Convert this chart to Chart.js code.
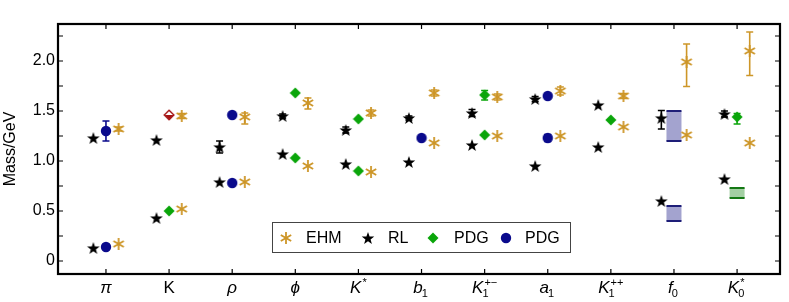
<!DOCTYPE html>
<html>
<head>
<meta charset="utf-8">
<script src="https://cdn.jsdelivr.net/npm/chart.js@4.4.1/dist/chart.umd.min.js"></script>
<style>
  html, body { margin: 0; padding: 0; background: #fff; }
  #wrap { width: 789px; height: 302px; }
</style>
</head>
<body>
<div id="wrap"><canvas id="massChart"></canvas></div>
<script>
// mesons along the bottom: base symbol, subscript, superscript
const categories = ['π', 'K', 'ρ', 'ϕ', 'K', 'b', 'K', 'a', 'K', 'f', 'K'];
const catSub = ['', '', '', '', '', '1', '1', '1', '1', '0', '0'];
const catSup = ['', '', '', '', '*', '', '+−', '', '++', '', '*'];
const uprightIdx = [1];
const yTicks = [0, 0.25, 0.5, 0.75, 1, 1.25, 1.5, 1.75, 2, 2.25];

// EHM (gold), ground and excited state
const ehmLower = [0.17, 0.52, 0.79, 0.95, 0.89, 1.18, 1.25, 1.25, 1.34, 1.26, 1.18];
const ehmUpper = [1.32, 1.45, 1.44, 1.58, 1.48, 1.68, 1.64, 1.70, 1.65, 1.99, 2.10];
const ehmUpperErrMinus = [0.02, 0.025, 0.07, 0.06, 0.03, 0.03, 0.03, 0.04, 0.025, 0.245, 0.245];
const ehmUpperErrPlus = [0.02, 0.025, 0.04, 0.05, 0.03, 0.03, 0.03, 0.04, 0.025, 0.18, 0.19];

// RL (black stars)
const rlLower = [0.13, 0.43, 0.79, 1.07, 0.97, 0.99, 1.16, 0.95, 1.14, 0.60, 0.82];
const rlUpper = [1.23, 1.21, 1.14, 1.45, 1.31, 1.43, 1.48, 1.62, 1.56, 1.43, 1.47];
const rlUpperErrMinus = [0, 0, 0.06, 0.02, 0.03, 0.02, 0.035, 0.025, 0, 0.11, 0.03];
const rlUpperErrPlus = [0, 0, 0.06, 0.02, 0.03, 0.02, 0.035, 0.025, 0, 0.075, 0.03];

// PDG green diamonds
const pdgGreenLower = [null, 0.50, null, 1.03, 0.90, null, 1.26, null, null, null, null];
const pdgGreenUpper = [null, null, null, 1.68, 1.42, null, 1.66, null, 1.41, null, 1.44];
const pdgGreenErrMinus = [0, 0, 0, 0, 0, 0, 0.05, 0, 0, 0, 0.07];
const pdgGreenErrPlus = [0, 0, 0, 0, 0, 0, 0.045, 0, 0, 0, 0.035];

// PDG blue circles
const pdgBlueLower = [0.14, null, 0.78, null, null, 1.23, null, 1.23, null, null, null];
const pdgBlueUpper = [1.30, null, 1.46, null, null, null, null, 1.65, null, null, null];
const pdgBlueLowerErr = [0, 0, 0, 0, 0, 0, 0, 0.035, 0, 0, 0];
const pdgBlueUpperErr = [0.10, 0, 0, 0, 0, 0, 0, 0, 0, 0, 0];

// K excited (open red diamond)
const kExcited = [null, 1.46, null, null, null, null, null, null, null, null, null];

// PDG ranges drawn as bands: [category, low, high]
const blueBands = [[9, 0.40, 0.55], [9, 1.20, 1.50]];
const greenBands = [[10, 0.63, 0.73]];

const GOLD = 'rgb(205,150,40)';
const NAVY = 'rgb(10,10,140)';
const GREEN = 'rgb(10,165,10)';
const SHIFT = 0.2;
const FONT = '"Liberation Sans", Arial, sans-serif';

function marker(size, draw) {
  const c = document.createElement('canvas');
  c.width = size; c.height = size;
  draw(c.getContext('2d'), size / 2);
  return c;
}

const starImg = marker(14, (g, h) => {
  g.fillStyle = '#000';
  g.beginPath();
  for (let k = 0; k < 10; k++) {
    const r = k % 2 ? 2.7 : 6.6;
    const a = -Math.PI / 2 + k * Math.PI / 5;
    g.lineTo(h + r * Math.cos(a), h + 0.6 + r * Math.sin(a));
  }
  g.closePath();
  g.fill();
});

const asteriskImg = marker(14, (g, h) => {
  g.strokeStyle = GOLD;
  g.lineWidth = 1.8;
  [90, 30, 150].forEach(d => {
    const a = d * Math.PI / 180;
    g.beginPath();
    g.moveTo(h - 6 * Math.cos(a), h - 6 * Math.sin(a));
    g.lineTo(h + 6 * Math.cos(a), h + 6 * Math.sin(a));
    g.stroke();
  });
});

const diamondImg = marker(12, (g, h) => {
  g.fillStyle = GREEN;
  g.beginPath();
  g.moveTo(h, 0.5); g.lineTo(11.5, h); g.lineTo(h, 11.5); g.lineTo(0.5, h);
  g.closePath();
  g.fill();
});

const circleImg = marker(12, (g, h) => {
  g.fillStyle = NAVY;
  g.beginPath();
  g.arc(h, h, 5.2, 0, Math.PI * 2);
  g.fill();
});

const redDiamondImg = marker(12, (g, h) => {
  const red = 'rgb(165,20,20)';
  g.fillStyle = red;
  g.beginPath();
  g.moveTo(1.5, h); g.lineTo(10.5, h); g.lineTo(h, 10.5);
  g.closePath();
  g.fill();
  g.strokeStyle = red;
  g.lineWidth = 1.4;
  g.beginPath();
  g.moveTo(h, 1.2); g.lineTo(10.8, h); g.lineTo(h, 10.8); g.lineTo(1.2, h);
  g.closePath();
  g.stroke();
});

function pts(values, shift) {
  const out = [];
  values.forEach((v, i) => { if (v !== null) out.push({ x: i + shift, y: v }); });
  return out;
}

// error bars: [x shift, centers, minus, plus, colour]
const errorSets = [
  [SHIFT, ehmUpper, ehmUpperErrMinus, ehmUpperErrPlus, GOLD],
  [-SHIFT, rlUpper, rlUpperErrMinus, rlUpperErrPlus, '#000'],
  [0, pdgGreenUpper, pdgGreenErrMinus, pdgGreenErrPlus, GREEN],
  [0, pdgBlueLower, pdgBlueLowerErr, pdgBlueLowerErr, NAVY],
  [0, pdgBlueUpper, pdgBlueUpperErr, pdgBlueUpperErr, NAVY]
];

const legendItems = [
  { img: asteriskImg, text: 'EHM', mx: 286, tx: 306 },
  { img: starImg, text: 'RL', mx: 368, tx: 388 },
  { img: diamondImg, text: 'PDG', mx: 433, tx: 454 },
  { img: circleImg, text: 'PDG', mx: 506, tx: 525 }
];

const extras = {
  id: 'extras',
  beforeDatasetsDraw(chart) {
    const { ctx, scales: { x, y } } = chart;
    ctx.save();
    // bands
    const band = (b, fill, edge) => {
      const cx = x.getPixelForValue(b[0]);
      const y1 = y.getPixelForValue(b[2]), y0 = y.getPixelForValue(b[1]);
      ctx.fillStyle = fill;
      ctx.fillRect(cx - 7.5, y1, 15, y0 - y1);
      ctx.strokeStyle = edge;
      ctx.lineWidth = 2;
      ctx.beginPath();
      ctx.moveTo(cx - 7.5, y1); ctx.lineTo(cx + 7.5, y1);
      ctx.moveTo(cx - 7.5, y0); ctx.lineTo(cx + 7.5, y0);
      ctx.stroke();
    };
    blueBands.forEach(b => band(b, 'rgba(140,140,195,0.8)', 'rgb(30,30,120)'));
    greenBands.forEach(b => band(b, 'rgba(140,195,140,0.8)', 'rgb(20,120,20)'));
    // error bars
    errorSets.forEach(([shift, vals, minus, plus, col]) => {
      vals.forEach((v, i) => {
        if (v === null || (!minus[i] && !plus[i])) return;
        const cx = x.getPixelForValue(i + shift);
        const yt = y.getPixelForValue(v + plus[i]);
        const yb = y.getPixelForValue(v - minus[i]);
        ctx.strokeStyle = col;
        ctx.lineWidth = 1.6;
        ctx.beginPath();
        ctx.moveTo(cx, yt); ctx.lineTo(cx, yb);
        ctx.moveTo(cx - 3.5, yt); ctx.lineTo(cx + 3.5, yt);
        ctx.moveTo(cx - 3.5, yb); ctx.lineTo(cx + 3.5, yb);
        ctx.stroke();
      });
    });
    ctx.restore();
  },
  afterDraw(chart) {
    const { ctx, chartArea: a, scales: { x, y } } = chart;
    ctx.save();
    ctx.strokeStyle = '#000';
    ctx.lineWidth = 1.2;
    ctx.beginPath();
    yTicks.forEach(v => {
      const py = y.getPixelForValue(v);
      ctx.moveTo(a.left, py); ctx.lineTo(a.left + 5, py);
      ctx.moveTo(a.right, py); ctx.lineTo(a.right - 5, py);
    });
    categories.forEach((c, i) => {
      const px = x.getPixelForValue(i);
      ctx.moveTo(px, a.bottom); ctx.lineTo(px, a.bottom - 5);
      ctx.moveTo(px, a.top); ctx.lineTo(px, a.top + 5);
    });
    ctx.stroke();
    ctx.lineWidth = 2.2;
    ctx.strokeRect(a.left, a.top, a.right - a.left, a.bottom - a.top);

    // category labels with sub/superscripts
    ctx.fillStyle = '#000';
    ctx.textBaseline = 'alphabetic';
    categories.forEach((c, i) => {
      const style = uprightIdx.includes(i) ? '' : 'italic ';
      ctx.font = style + '17px ' + FONT;
      const wBase = ctx.measureText(c).width;
      ctx.font = '11px ' + FONT;
      const wSub = catSub[i] ? ctx.measureText(catSub[i]).width : 0;
      const wSup = catSup[i] ? ctx.measureText(catSup[i]).width : 0;
      const total = wBase + Math.max(wSub, wSup) + (wSub || wSup ? 1 : 0);
      const x0 = x.getPixelForValue(i) - total / 2;
      const base = 293;
      ctx.font = style + '17px ' + FONT;
      ctx.textAlign = 'left';
      ctx.fillText(c, x0, base);
      ctx.font = '11px ' + FONT;
      if (catSub[i]) ctx.fillText(catSub[i], x0 + wBase + (i === 4 ? 0 : -1), base + 4);
      if (catSup[i]) ctx.fillText(catSup[i], x0 + wBase + 1, base - 7);
    });

    // legend box
    ctx.fillStyle = '#fff';
    ctx.fillRect(272, 222, 299, 31);
    ctx.strokeStyle = '#444';
    ctx.lineWidth = 1;
    ctx.strokeRect(272.5, 222.5, 298, 30);
    ctx.fillStyle = '#000';
    ctx.font = '16px ' + FONT;
    ctx.textBaseline = 'middle';
    legendItems.forEach(it => {
      ctx.drawImage(it.img, it.mx - it.img.width / 2, 238 - it.img.height / 2);
      ctx.fillText(it.text, it.tx, 238.5);
    });
    ctx.restore();
  }
};

Chart.defaults.font.family = FONT;
Chart.defaults.color = '#000';

new Chart(document.getElementById('massChart'), {
  type: 'scatter',
  data: {
    datasets: [
      { label: 'EHM', data: pts(ehmLower, SHIFT).concat(pts(ehmUpper, SHIFT)), pointStyle: asteriskImg },
      { label: 'RL', data: pts(rlLower, -SHIFT).concat(pts(rlUpper, -SHIFT)), pointStyle: starImg },
      { label: 'PDG', data: pts(pdgGreenLower, 0).concat(pts(pdgGreenUpper, 0)), pointStyle: diamondImg },
      { label: 'PDG', data: pts(pdgBlueLower, 0).concat(pts(pdgBlueUpper, 0)), pointStyle: circleImg },
      { label: 'K(1460)', data: pts(kExcited, 0), pointStyle: redDiamondImg }
    ]
  },
  options: {
    responsive: true,
    maintainAspectRatio: false,
    animation: false,
    layout: { padding: { top: 24, right: 9, left: 0, bottom: 0 } },
    plugins: { legend: { display: false }, tooltip: { enabled: false } },
    scales: {
      x: {
        type: 'linear',
        min: -0.76,
        max: 10.68,
        afterBuildTicks: s => { s.ticks = categories.map((c, i) => ({ value: i })); },
        afterFit: s => { s.height = 28; },
        grid: { display: false, drawTicks: false },
        border: { display: false },
        ticks: { autoSkip: false, maxRotation: 0, callback: () => '' }
      },
      y: {
        min: -0.13,
        max: 2.37,
        afterBuildTicks: s => { s.ticks = yTicks.map(v => ({ value: v })); },
        afterFit: s => { s.width = 58; },
        grid: { display: false, drawTicks: false },
        border: { display: false },
        title: { display: true, text: 'Mass/GeV', font: { size: 16 }, padding: { top: 1, bottom: 0 } },
        ticks: {
          padding: 3,
          font: { size: 16 },
          callback: v => {
            if (Math.abs(v * 2 - Math.round(v * 2)) > 1e-6) return '';
            return v === 0 ? '0' : v.toFixed(1);
          }
        }
      }
    }
  },
  plugins: [extras]
});
</script>
</body>
</html>
